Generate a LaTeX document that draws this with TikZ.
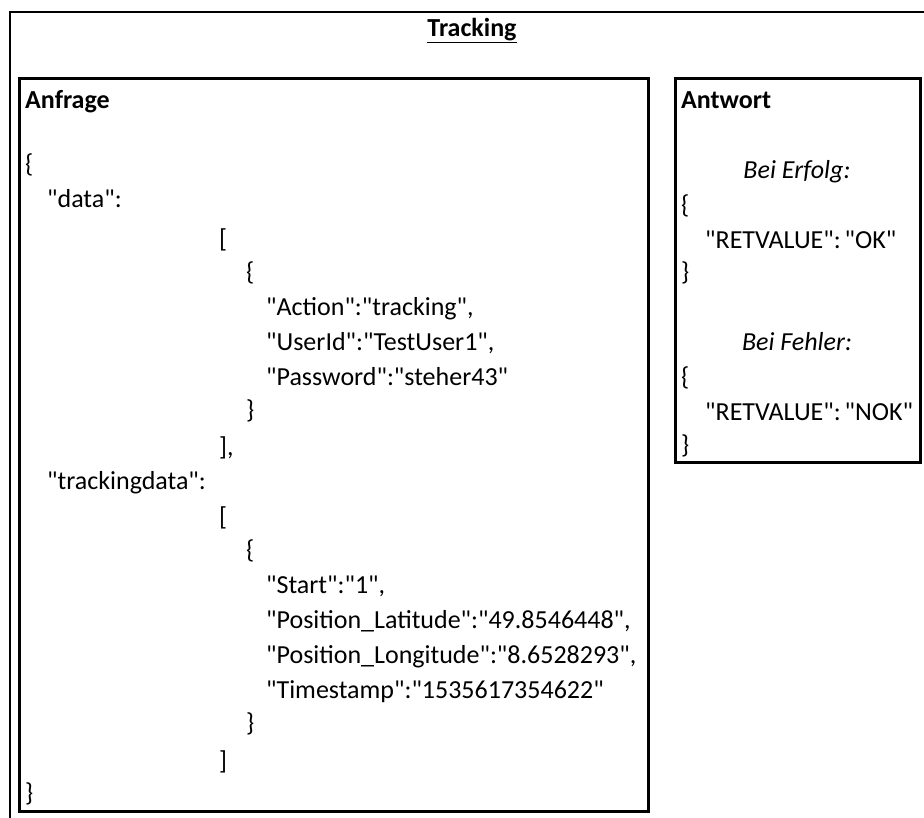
\documentclass[tikz,border=0pt]{standalone}
\usepackage{fontspec}
\setmainfont{Carlito}[Ligatures=TeXOff]
\begin{document}
\begin{tikzpicture}[x=1pt,y=-1pt,
  txt/.style={anchor=base west,inner sep=0pt,font=\fontsize{26}{30}\selectfont},
  ctr/.style={anchor=base,inner sep=0pt,font=\fontsize{26}{30}\selectfont\itshape},
  frame/.style={draw=black,line width=3pt}]
\useasboundingbox (0,0) rectangle (924,817);
\draw[line width=2pt] (10,830) -- (10,12) -- (935,12);
\node[anchor=base,inner sep=0pt,font=\fontsize{26}{30}\selectfont\bfseries] (title) at (472,36) {\underline{Tracking}};
\draw[frame] (19.5,78.5) rectangle (648,811);
\draw[frame] (675.5,78.5) rectangle (920,462);
% Anfrage
\node[txt,font=\fontsize{26}{30}\selectfont\bfseries] (anf) at (25,108) {Anfrage};
\node[txt] (a1) at (25,172) {\{};
\node[txt] (a2) at (47,207) {"data":};
\node[txt] (a3) at (219,247) {[};
\node[txt] (a4) at (246,280) {\{};
\node[txt] (a5) at (266,315) {"Action":"tracking",};
\node[txt] (a6) at (266,350) {"UserId":"TestUser1",};
\node[txt] (a7) at (266,385) {"Password":"steher43"};
\node[txt] (a8) at (246,418) {\}};
\node[txt] (a9) at (219,455) {],};
\node[txt] (a10) at (47,489) {"trackingdata":};
\node[txt] (a11) at (219,525) {[};
\node[txt] (a12) at (246,558) {\{};
\node[txt] (a13) at (266,593) {"Start":"1",};
\node[txt] (a14) at (266,628) {"Position\_Latitude":"49.8546448",};
\node[txt] (a15) at (266,663) {"Position\_Longitude":"8.6528293",};
\node[txt] (a16) at (266,698) {"Timestamp":"1535617354622"};
\node[txt] (a17) at (246,731) {\}};
\node[txt] (a18) at (219,769) {]};
\node[txt] (a19) at (25,801) {\}};
% Antwort
\node[txt,font=\fontsize{26}{30}\selectfont\bfseries] (ant) at (681,108) {Antwort};
\node[ctr] (b1) at (797,178) {Bei Erfolg:};
\node[txt] (b2) at (681,213) {\{};
\node[txt] (b3) at (705,248) {"RETVALUE":\hspace{0.15em}"OK"};
\node[txt] (b4) at (681,280) {\}};
\node[ctr] (b5) at (797,350) {Bei Fehler:};
\node[txt] (b6) at (681,385) {\{};
\node[txt] (b7) at (705,420) {"RETVALUE":\hspace{0.15em}"NOK"};
\node[txt] (b8) at (681,453) {\}};
\end{tikzpicture}
\end{document}
